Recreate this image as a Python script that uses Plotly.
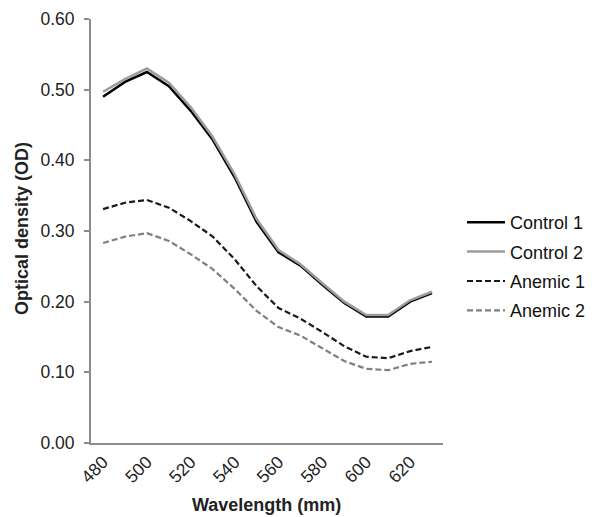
import plotly.graph_objects as go

wavelength = [480, 490, 500, 510, 520, 530, 540, 550, 560, 570, 580, 590, 600, 610, 620, 630]
control1 = [0.490, 0.511, 0.525, 0.505, 0.470, 0.429, 0.376, 0.313, 0.270, 0.251, 0.224, 0.198, 0.179, 0.179, 0.200, 0.212]
control2 = [0.497, 0.515, 0.530, 0.510, 0.475, 0.433, 0.380, 0.317, 0.273, 0.253, 0.226, 0.200, 0.181, 0.181, 0.202, 0.214]
anemic1 = [0.331, 0.340, 0.344, 0.333, 0.314, 0.292, 0.260, 0.222, 0.191, 0.176, 0.157, 0.137, 0.122, 0.120, 0.130, 0.136]
anemic2 = [0.283, 0.292, 0.297, 0.286, 0.267, 0.246, 0.218, 0.187, 0.164, 0.152, 0.134, 0.116, 0.105, 0.103, 0.112, 0.115]
x_ticks = [480, 500, 520, 540, 560, 580, 600, 620]
y_ticks = [0.0, 0.1, 0.2, 0.3, 0.4, 0.5, 0.6]

series = [
    ("Control 1", control1, "#000000", "solid", 2.5),
    ("Control 2", control2, "#9c9c9c", "solid", 2.5),
    ("Anemic 1", anemic1, "#1a1a1a", "6px,3px", 2.2),
    ("Anemic 2", anemic2, "#808080", "6px,3px", 2.2),
]

fig = go.Figure()
for name, vals, color, dash, w in series:
    fig.add_trace(go.Scatter(x=wavelength, y=vals, mode="lines", name=name,
                             legendgroup=name,
                             line=dict(color=color, width=w, dash=dash)))

W, H = 595, 517
L, R, T, B = 91, 152, 19, 74
pw = W - L - R
ph = H - T - B

fig.update_layout(
    width=W, height=H,
    margin=dict(l=L, r=R, t=T, b=B, autoexpand=False),
    paper_bgcolor="white", plot_bgcolor="white",
    font=dict(family="Liberation Sans, Arial, sans-serif", size=17.5, color="#222222"),
    showlegend=True,
    legend=dict(x=(462 - L) / pw, y=(443 - 204) / ph, xanchor="left", yanchor="top",
                font=dict(size=18, color="#111111"), tracegroupgap=3,
                itemwidth=38, bgcolor="rgba(0,0,0,0)"),
    annotations=[
        dict(text="<b>Optical density (OD)</b>", xref="paper", yref="paper",
             x=(22 - L) / pw, y=(443 - 229) / ph, xanchor="center", yanchor="middle",
             textangle=-90, showarrow=False, font=dict(size=18, color="#222222")),
        dict(text="<b>Wavelength (mm)</b>", xref="paper", yref="paper",
             x=(266 - L) / pw, y=(443 - 505) / ph, xanchor="center", yanchor="middle",
             showarrow=False, font=dict(size=18, color="#222222")),
    ],
)
fig.update_xaxes(
    range=[474.5, 635], tickmode="array", tickvals=x_ticks,
    ticktext=[str(v) for v in x_ticks], tickangle=-45, automargin=False,
    showline=True, linecolor="#8c8c8c", linewidth=2, showgrid=False, zeroline=False,
    ticks="", tickfont=dict(size=17.5),
)
fig.update_yaxes(
    range=[0, 0.6], tickmode="array", tickvals=y_ticks, automargin=False,
    ticktext=[f"{v:.2f}" for v in y_ticks],
    showline=True, linecolor="#8c8c8c", linewidth=2, showgrid=False, zeroline=False,
    ticks="outside", ticklen=5, tickcolor="#8c8c8c", tickwidth=2, tickfont=dict(size=17.5),
    ticklabelstandoff=6,
)

fig.write_html("out.html", config={"displayModeBar": False},
               post_script="document.body.style.margin='0';document.body.style.padding='0';")
